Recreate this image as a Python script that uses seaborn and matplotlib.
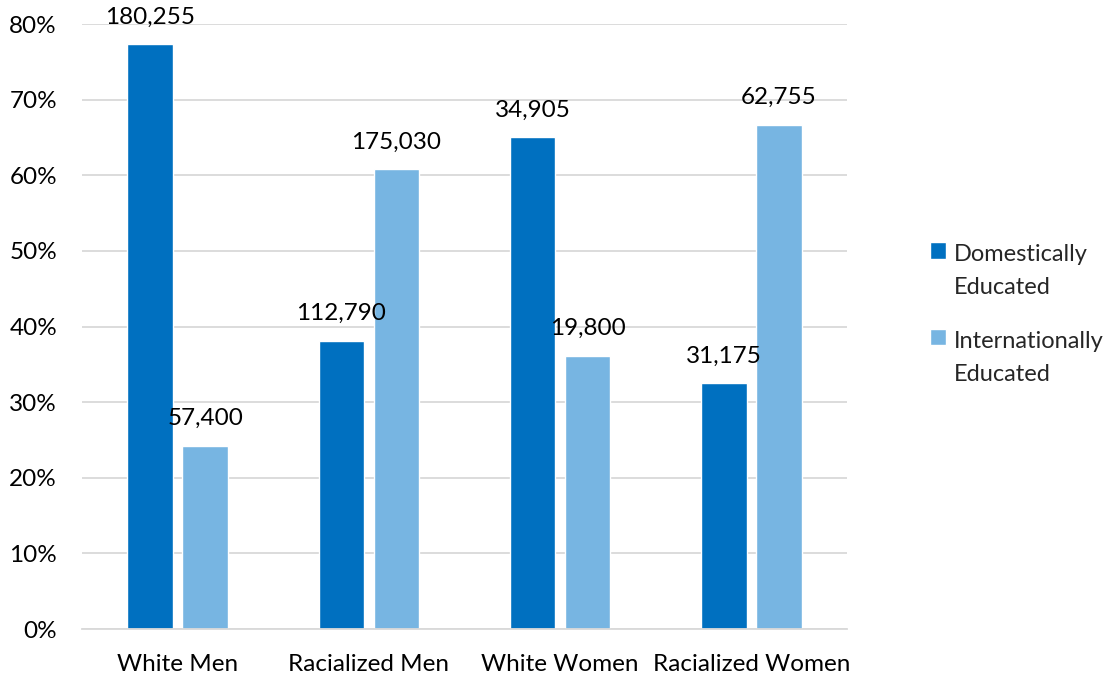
import matplotlib
matplotlib.use("Agg")
import matplotlib.pyplot as plt
import seaborn as sns
import pandas as pd
from matplotlib.ticker import PercentFormatter

# Share of each group, by where the credential was earned
groups = ["White Men", "Racialized Men", "White Women", "Racialized Women"]
domestic_share = [0.773, 0.381, 0.650, 0.325]
international_share = [0.242, 0.608, 0.361, 0.667]
domestic_counts = ["180,255", "112,790", "34,905", "31,175"]
international_counts = ["57,400", "175,030", "19,800", "62,755"]
series_names = ["Domestically\nEducated", "Internationally\nEducated"]
y_ticks = [0, 0.1, 0.2, 0.3, 0.4, 0.5, 0.6, 0.7, 0.8]

df = pd.DataFrame({
    "group": groups * 2,
    "share": domestic_share + international_share,
    "series": [series_names[0]] * 4 + [series_names[1]] * 4,
})

sns.set_theme(style="white")
plt.rcParams["font.family"] = ["Lato", "DejaVu Sans"]
FS = 17.5

fig = plt.figure(figsize=(11.2, 6.77), dpi=100)
ax = fig.add_axes([0.0732, 0.0709, 0.6831, 0.8936])

palette = {series_names[0]: "#0070C0", series_names[1]: "#77B5E2"}
sns.barplot(data=df, x="group", y="share", hue="series", order=groups,
            hue_order=series_names, palette=palette, width=0.575, gap=0.17,
            saturation=1, ax=ax, legend=True)

for container, labels in zip(ax.containers, [domestic_counts, international_counts]):
    ax.bar_label(container, labels=labels, padding=12, fontsize=FS, color="#000000")

ax.set_ylim(0, 0.8)
ax.set_xlim(-0.5, 3.5)
ax.set_yticks(y_ticks)
ax.yaxis.set_major_formatter(PercentFormatter(1.0, decimals=0))
ax.grid(axis="y", color="#D9D9D9", linewidth=1.3)
ax.set_axisbelow(True)
for side in ["top", "right", "left"]:
    ax.spines[side].set_visible(False)
ax.spines["bottom"].set_color("#D9D9D9")
ax.spines["bottom"].set_linewidth(1.3)
ax.tick_params(axis="both", length=0, labelsize=FS, colors="#000000")
ax.tick_params(axis="y", pad=18)
ax.tick_params(axis="x", pad=18)
ax.set_xlabel("")
ax.set_ylabel("")

leg = ax.legend(loc="center left", bbox_to_anchor=(1.081, 0.52), frameon=False,
                fontsize=17, handlelength=0.68, handleheight=0.68,
                handletextpad=0.3, labelspacing=1.38)
for t in leg.get_texts():
    t.set_linespacing(1.7)
# lift each swatch so it sits beside the first line of its label
for patch in leg.get_patches():
    patch.set_y(patch.get_y() + 15)

fig.savefig("out.png", dpi=100)
